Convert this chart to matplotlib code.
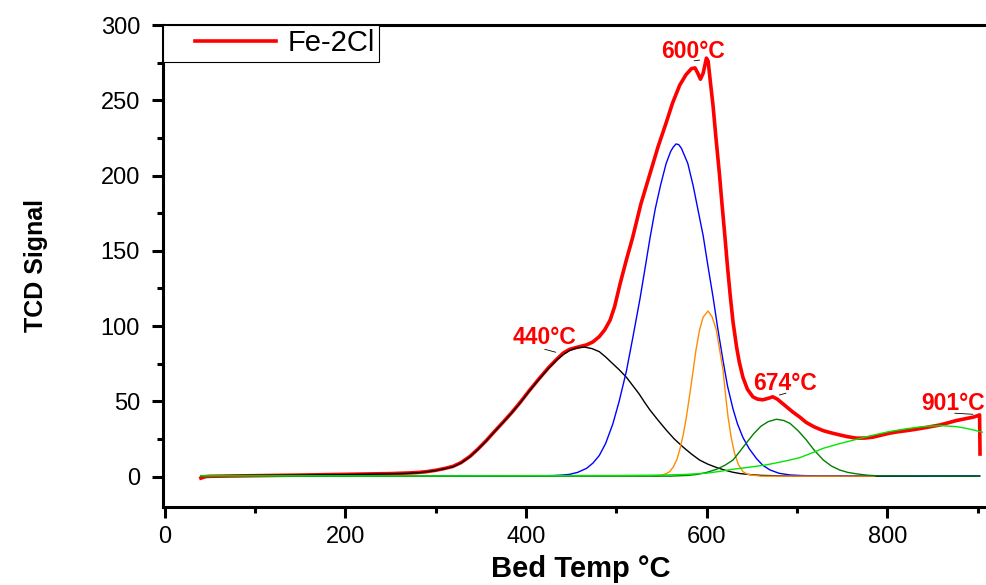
import matplotlib
matplotlib.use("Agg")
import matplotlib.pyplot as plt
from matplotlib.legend_handler import HandlerLine2D

plt.rcParams['font.family'] = ['Liberation Sans', 'DejaVu Sans']

# measured TCD profile (Fe-2Cl)
red_t = [40, 45, 50, 100, 150, 200, 250, 270, 282, 290, 300, 310, 319, 328, 338, 347,
         356, 365, 375, 384, 393, 404, 415, 425, 434, 441, 448, 457, 467, 474, 481,
         487, 493, 498, 504, 511, 518, 527, 537, 546, 555, 562, 570, 577, 583, 587,
         590, 593, 596, 599.6, 601.5, 604, 607, 610, 614, 617, 620, 623, 626, 629,
         633, 636, 640, 645, 651, 656, 662, 668, 673, 678, 683, 688, 695, 703, 710,
         719, 729, 738, 747, 756, 766, 775, 784, 793, 802, 812, 821, 830, 839, 848,
         858, 867, 876, 885, 895, 900, 902, 902.5]
red_v = [-1, 0, 0.2, 0.6, 1.0, 1.5, 2.0, 2.4, 2.8, 3.3, 4.2, 5.4, 6.8, 9.3, 13.5, 18.5,
         24, 30, 36.5, 42.5, 49, 57.5, 65.5, 72.5, 78, 82, 84.5, 86, 87.5, 89.5, 93,
         97.5, 104, 113, 128, 144, 159, 181, 201, 219, 235, 248, 260, 267, 271, 271.5,
         268, 264, 268, 278, 276, 262, 246, 226, 201, 180, 160, 139, 120, 103,
         86, 76, 66, 58, 53, 51.5, 51, 52, 53, 51.5, 49, 46.5, 43, 39.5, 36,
         33, 30.5, 29, 27.7, 26.5, 25.5, 25.6, 26.2, 27.5, 28.8, 29.8, 30.5, 31.3, 32.2, 33.2,
         34.3, 35.7, 37.2, 38.3, 39.5, 40.5, 41, 15]

# deconvoluted peaks
black_t = [40, 100, 150, 200, 250, 270, 282, 300, 319, 328, 338, 347, 356, 365, 375,
           384, 393, 404, 415, 425, 434, 441, 448, 456, 465, 473, 481, 488, 495, 503,
           511, 518, 525, 531, 537, 546, 555, 564, 574, 583, 592, 601, 611, 620, 628,
           637, 648, 660, 680, 700, 800, 902]
black_v = [0.5, 0.8, 1.0, 1.3, 1.8, 2.2, 2.6, 4.0, 6.5, 9.1, 13.3, 18.3, 23.8, 29.8, 36.3,
           42.3, 48.7, 57.2, 65.2, 72, 77.5, 81, 83.7, 85.5, 86, 85, 83, 79.5, 75.5, 71,
           66, 60.5, 55, 49.5, 44.3, 37.5, 31, 25, 19.5, 15, 11, 8.3, 6, 4.3, 3.0,
           2.0, 1.3, 0.8, 0.5, 0.3, 0.2, 0.2]

blue_t = [40, 400, 420, 430, 440, 448, 457, 467, 474, 481, 488, 496, 503, 511, 518,
          526, 531, 537, 543, 549, 555, 560, 563, 566, 569, 572, 579, 585, 590, 596, 601,
          607, 612, 618, 623, 629, 634, 640, 647, 655, 662, 670, 680, 692, 705, 720, 902]
blue_v = [0.5, 0.5, 0.6, 0.7, 1.0, 1.5, 2.8, 5.5, 9, 14, 22, 35, 50, 70, 92,
          118, 136, 158, 178, 194, 208, 216, 219, 221, 220.5, 218, 208, 193, 178, 160, 141,
          119, 99, 77, 60, 45, 35, 26, 18.5, 12, 7.5, 4.4, 2.2, 1.1, 0.7, 0.5, 0.5]

orange_t = [540, 550, 555, 559, 563, 567, 570, 574, 577.5, 581, 585, 588, 592, 596,
            601.4, 606, 610.6, 614, 618, 621, 623.5, 627, 630.7, 635, 640, 645, 650,
            660, 786]
orange_v = [0.3, 1.0, 2.0, 3.3, 6.5, 11.5, 17.7, 28, 39.8, 54, 70.8, 84, 97.4, 106,
            110, 106, 97.4, 85, 70.8, 53, 39.8, 26, 15.5, 8, 3.3, 1.6, 1.0,
            0.3, 0.3]

dgreen_t = [40, 560, 580, 590, 600, 611, 620, 629, 637, 644, 652, 660, 668, 677, 685,
            692, 701, 710, 719, 729, 738, 747, 756, 766, 778, 790, 902]
dgreen_v = [0.3, 0.3, 0.8, 1.5, 2.8, 4.9, 7.5, 11, 17, 22.5, 28.5, 33.5, 36.5, 38.1, 37.3,
            35.4, 30.5, 24.5, 17.5, 11, 7, 4.4, 2.8, 1.8, 0.9, 0.5, 0.3]

lgreen_t = [40, 300, 500, 550, 575, 600, 615, 629, 648, 666, 680, 692, 703, 716, 729,
            747, 766, 784, 802, 821, 839, 858, 876, 886, 895, 905]
lgreen_v = [0.5, 0.5, 0.7, 1.0, 1.4, 2.3, 3.5, 4.9, 6.3, 7.8, 9.5, 11, 12.6, 15.6, 18.8,
            21.9, 24.8, 27.5, 29.9, 31.8, 33.2, 33.9, 33.2, 32.2, 31, 29.5]

# peak labels: text, text position, leader start, leader end
peak_labels = ["440°C", "600°C", "674°C", "901°C"]
label_pos = [(420.6, 92.1), (584.5, 282.7), (686.3, 62), (872.6, 48.7)]
leader_from = [(420.6, 84.6), (585.9, 276.2), (680.3, 54.2), (874.5, 42.1)]
leader_to = [(432.8, 82.6), (592.2, 276.7), (687.7, 55.4), (894.7, 41.4)]

fig = plt.figure(figsize=(9.87, 5.85), dpi=100)
ax = fig.add_axes([163 / 987, 78.3 / 585, 822 / 987, 481.7 / 585])

ax.plot(red_t, red_v, color="#ff0000", lw=2.6, label="Fe-2Cl", zorder=3,
        solid_joinstyle="round")
for t, v, c in [(black_t, black_v, "black"), (blue_t, blue_v, "#0000ff"),
                (orange_t, orange_v, "#ff8c00"), (dgreen_t, dgreen_v, "#008000"),
                (lgreen_t, lgreen_v, "#00e600")]:
    ax.plot(t, v, color=c, lw=1.0, zorder=4, solid_joinstyle="round")

for txt, pos, p0, p1 in zip(peak_labels, label_pos, leader_from, leader_to):
    ax.text(pos[0], pos[1], txt, color="#ff0000", fontsize=16.5, fontweight="bold",
            ha="center", va="center", zorder=6)
    ax.annotate("", xy=p1, xytext=p0,
                arrowprops=dict(arrowstyle="-", color="black", lw=0.6,
                                shrinkA=0, shrinkB=0))

ax.set_xlim(-2, 908)
ax.set_ylim(-20, 300)
ax.set_xticks([0, 200, 400, 600, 800])
ax.set_xticks([100, 300, 500, 700, 900], minor=True)
ax.set_yticks([0, 50, 100, 150, 200, 250, 300])
ax.set_yticks([25, 75, 125, 175, 225, 275], minor=True)

for s in ["left", "bottom", "top"]:
    ax.spines[s].set_linewidth(2.2)
ax.spines["right"].set_visible(False)

ax.tick_params(which="major", direction="out", length=8, width=2.2, labelsize=17,
               top=False, right=False)
ax.tick_params(which="minor", direction="out", length=4.5, width=2.2, top=False, right=False)
ax.tick_params(axis="x", which="major", pad=6)
ax.tick_params(axis="y", which="major", pad=8.5)

ax.set_xlabel("Bed Temp °C", fontsize=21, fontweight="bold")
ax.set_ylabel("TCD Signal", fontsize=18, fontweight="bold")
ax.xaxis.set_label_coords(0.5085, -0.1)
ax.yaxis.set_label_coords(-0.14, 0.5)

leg = ax.legend(loc="upper left", borderaxespad=0, fontsize=21, fancybox=False,
                framealpha=1, edgecolor="black", borderpad=0.15, handlelength=3.73,
                handletextpad=0.38, handler_map={ax.lines[0]: HandlerLine2D(xpad=0.96)})
leg.get_frame().set_linewidth(0.8)
leg.set_zorder(7)

fig.savefig("out.png", dpi=100)
